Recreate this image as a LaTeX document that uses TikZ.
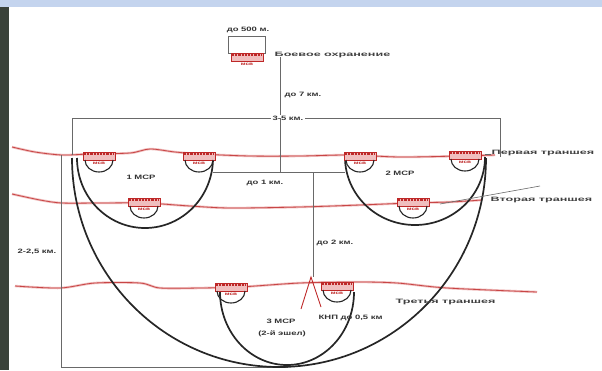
\documentclass[tikz,border=0pt]{standalone}
\usepackage{fontspec}
\newfontfamily\lblfont{Liberation Sans}[FakeStretch=1.5]
\newfontfamily\widefont{Liberation Sans}[FakeStretch=2.0]
\definecolor{bandblue}{RGB}{196,212,238}
\definecolor{stripdark}{RGB}{58,66,58}
\definecolor{dimgray}{RGB}{105,105,105}
\definecolor{trenchred}{RGB}{200,70,70}
\definecolor{trenchpink}{RGB}{240,190,190}
\definecolor{msvred}{RGB}{190,40,40}
\tikzset{
  dimline/.style={draw=dimgray, line width=0.8pt},
  unitarc/.style={draw=black!85, line width=1.7pt},
  trench/.style={preaction={draw=trenchpink, line width=2.4pt}, draw=trenchred, line width=0.8pt},
  lbl/.style={font=\lblfont\bfseries\fontsize{6.3}{7}\selectfont, text=black!80, inner sep=0.5pt},
  widelbl/.style={font=\widefont\bfseries\fontsize{6.3}{7}\selectfont, text=black!75, inner sep=0.5pt},
  msvbar/.pic={
    \fill[trenchpink] (-16,-5) rectangle (16,3);
    \draw[msvred, line width=2.6pt, dash pattern=on 2.2pt off 1pt] (-15,-3) -- (15,-3);
    \draw[msvred, line width=0.5pt] (-16,-5) rectangle (16,3);
    \node[font=\lblfont\bfseries\fontsize{4.3}{4.5}\selectfont, text=msvred, inner sep=0pt] (-lab) at (0,6.5) {мсв};
  },
  msvpic/.pic={
    \pic (-bar) at (0,0) {msvbar};
    \draw[draw=black!85, line width=1.1pt] (-14,3) arc[start angle=180, end angle=0, x radius=14, y radius=12];
  }
}
\begin{document}
\begin{tikzpicture}[x=1pt,y=-1pt]
\useasboundingbox (0,0) rectangle (602,370);
\fill[white] (0,0) rectangle (602,370);
\fill[bandblue] (0,0) rectangle (602,7);
\fill[stripdark] (0,7) rectangle (9,370);

% trenches
\draw[trench] plot[smooth] coordinates {(12,147) (35,152) (62,155) (90,154) (130,153) (150,149) (175,152) (200,154) (250,156) (300,156) (350,155) (400,157) (460,156) (495,155)};
\draw[trench] plot[smooth] coordinates {(12,194) (40,200) (62,203) (100,203) (145,203) (190,206) (230,208) (300,207) (360,205) (410,203) (450,202) (482,200)};
\draw[trench] plot[smooth] coordinates {(15,286) (60,288) (95,283) (140,283) (160,288) (200,288) (240,287) (300,283) (357,282) (397,283) (447,288) (537,292)};

% top outpost
\node[draw=dimgray, line width=0.7pt, minimum width=37pt, minimum height=17pt, inner sep=0pt] (obox) at (247,45) {};
\pic (msv0) at (247,58) {msvbar};
\node[lbl] (l500) at (248,30) {до 500 м.};
\node[widelbl, anchor=west] (lbo) at (274,55) {Боевое охранение};

% dimension / connection lines
\coordinate (c1) at (280,57);
\coordinate (c2) at (280,118);
\coordinate (tl) at (72,118);
\coordinate (tr) at (500,118);
\coordinate (tlb) at (72,155);
\coordinate (trb) at (500,157);
\draw[dimline] (c1) -- (c2);
\draw[dimline] (tlb) -- (tl) -- (tr) -- (trb);
\node[lbl, anchor=west] (l7) at (284,95) {до 7 км.};
\node[lbl, fill=white, inner sep=1.2pt] (l35) at (288,118) {3-5 км.};
\coordinate (c3) at (280,172);
\coordinate (hl) at (213,172);
\coordinate (hr) at (345,172);
\draw[dimline] (c2) -- (c3);
\draw[dimline] (hl) -- (hr);
\node[lbl] (l1) at (265,183) {до 1 км.};
\coordinate (v2t) at (313,172);
\coordinate (v2b) at (313,277);
\draw[dimline] (v2t) -- (v2b);
\node[lbl, anchor=west] (l2) at (316,243) {до 2 км.};
\coordinate (dl) at (61,155);
\coordinate (dlb) at (61,367);
\coordinate (dbr) at (288,367);
\draw[dimline] (dl) -- (dlb) -- (dbr);
\node[lbl] (l25) at (37,252) {2-2,5 км.};

% big battalion arc
\draw[unitarc] (72,158) arc[start angle=180, end angle=0, x radius=207, y radius=209];

% company arcs
\draw[unitarc] (77,158) arc[start angle=180, end angle=0, x radius=68, y radius=70];
\draw[unitarc] (345,157) arc[start angle=180, end angle=0, x radius=70, y radius=68];
\draw[unitarc] (220,292) arc[start angle=180, end angle=0, x radius=67, y radius=73];

% platoon positions
\pic (msv1) at (99,157) {msvpic};
\pic (msv2) at (199,157) {msvpic};
\pic (msv3) at (144,203) {msvpic};
\pic (msv4) at (360,157) {msvpic};
\pic (msv5) at (465,156) {msvpic};
\pic (msv6) at (413,203) {msvpic};
\pic (msv7) at (231,288) {msvpic};
\pic (msv8) at (337,287) {msvpic};

% company labels
\node[lbl] (k1) at (141,177) {1 МСР};
\node[lbl] (k2) at (400,173) {2 МСР};
\node[lbl] (k3) at (281,321) {3 МСР};
\node[lbl] (k3b) at (282,334) {(2-й эшел)};

% command post symbol
\coordinate (kp) at (311,277);
\coordinate (kpl) at (301,309);
\coordinate (kpr) at (321,307);
\draw[msvred, line width=0.9pt] (kpl) -- (kp) -- (kpr);
\node[lbl, anchor=west] (lkp) at (318,318) {КНП до 0,5 км};

% trench labels
\coordinate (t1e) at (485,154);
\coordinate (t1l) at (491,154);
\draw[dimline, line width=0.6pt] (t1e) -- (t1l);
\node[widelbl, anchor=west] (lt1) at (491,153) {Первая траншея};
\coordinate (t2a) at (440,204);
\coordinate (t2b) at (540,186);
\draw[dimline, line width=0.6pt] (t2a) -- (t2b);
\node[widelbl, anchor=west] (lt2) at (490,200) {Вторая траншея};
\node[widelbl, anchor=west] (lt3) at (395,302) {Третья траншея};
\end{tikzpicture}
\end{document}
